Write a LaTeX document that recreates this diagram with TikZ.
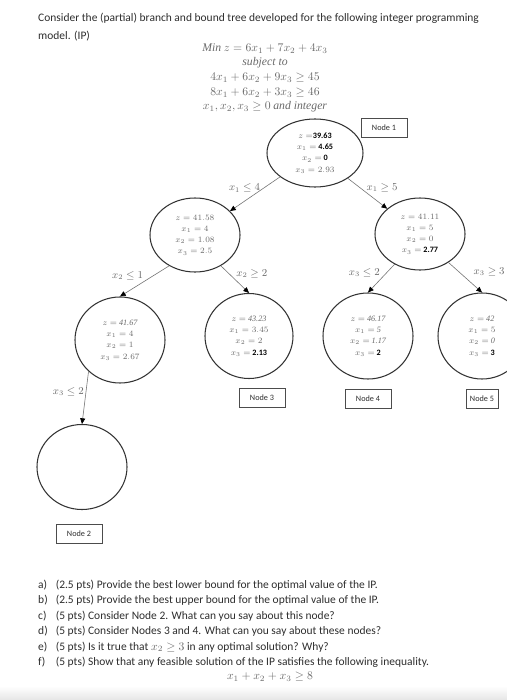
\documentclass[tikz,border=0pt]{standalone}
\usepackage{amsmath,amssymb}
\usepackage{fontspec}
\setmainfont{Carlito}
\newfontfamily\serifit{Liberation Serif}
\usetikzlibrary{arrows.meta,positioning,shapes.geometric}
\definecolor{bbgrey}{HTML}{6A6A6A}
\definecolor{bbtext}{HTML}{2E2E2E}
\newcommand{\bv}[1]{\textcolor{black}{\textbf{#1}}}
\newcommand{\iv}[1]{{\serifit\itshape #1}}
\newcommand{\qitem}[2]{\makebox[15pt][l]{#1}#2}

\begin{document}
\begin{tikzpicture}[x=0.03cm,y=-0.03cm,font=\fontsize{9.8}{13.1}\selectfont,
  bb/.style={ellipse,draw=black!80,line width=0.9pt,inner sep=0pt,align=center,text=bbgrey,font=\fontsize{7}{9.6}\selectfont},
  tag/.style={draw=black!70,line width=0.5pt,minimum width=1.38cm,minimum height=0.57cm,inner sep=0pt,text=bbtext,font=\fontsize{7}{8}\selectfont},
  arr/.style={-{Triangle[length=1.7mm,width=1.5mm,color=black]},draw=black!55,line width=0.5pt},
  cut/.style={text=bbgrey,font=\fontsize{9}{10}\selectfont,inner sep=1pt}]
  \useasboundingbox (0,0) rectangle (507,700);
  \fill[white] (0,0) rectangle (507,700);
  \shade[top color=white,bottom color=black!10] (0,686) rectangle (507,700);

  % problem statement
  \node[anchor=north west,align=left,inner sep=0pt,text=bbtext,font=\fontsize{9.8}{15.2}\selectfont] (intro) at (38,13)
    {Consider the (partial) branch and bound tree developed for the following integer programming\\model. (IP)};
  \node[align=center,inner sep=0pt,text=bbgrey,font=\fontsize{10}{12.5}\selectfont] (model) at (265,78)
    {{\serifit\itshape Min} $z = 6x_1 + 7x_2 + 4x_3$\\
     {\serifit\itshape subject to}\\
     $4x_1 + 6x_2 + 9x_3 \geq 45$\\
     $8x_1 + 6x_2 + 3x_3 \geq 46$\\
     $x_1, x_2, x_3 \geq 0$ {\serifit\itshape and integer}};

  % tree
  \node[bb,minimum width=2.88cm,minimum height=2.04cm] (n1) at (315,153)
    {$z =$\bv{39.63}\\ $x_1 =$ \bv{4.65}\\ $x_2 =$ \bv{0}\\ $x_3 = 2.93$};
  \node[bb,minimum width=2.7cm,minimum height=2.22cm] (nL) at (195,235)
    {$z = 41.58$\\ $x_1 = 4$\\ $x_2 = 1.08$\\ $x_3 = 2.5$};
  \node[bb,minimum width=2.7cm,minimum height=2.16cm] (nR) at (420,234)
    {$z = 41.11$\\ $x_1 = 5$\\ $x_2 = 0$\\ $x_3 =$ \bv{2.77}};
  \node[bb,minimum width=2.7cm,minimum height=2.58cm] (nLL) at (120,340)
    {$z =$ \iv{41.67}\\ $x_1 = 4$\\ $x_2 = 1$\\ $x_3 = 2.67$};
  \node[bb,minimum width=2.64cm,minimum height=2.55cm] (n3) at (249,336)
    {$z =$ \iv{43.23}\\ $x_1 = 3.45$\\ $x_2 = 2$\\ $x_3 =$ \bv{2.13}};
  \node[bb,minimum width=2.7cm,minimum height=2.58cm] (n4) at (368,336)
    {$z =$ \iv{46.17}\\ $x_1 =$ \iv{5}\\ $x_2 =$ \iv{1.17}\\ $x_3 =$ \bv{2}};
  \node[bb,minimum width=2.64cm,minimum height=2.58cm] (n5) at (482,336)
    {$z =$ \iv{42}\\ $x_1 = 5$\\ $x_2 =$ \iv{0}\\ $x_3 =$ \bv{3}};
  \node[bb,minimum width=2.7cm,minimum height=2.55cm] (n2) at (82,467) {};

  \node[tag] (t1) at (384,128) {Node 1};
  \node[tag,below=0.28cm of n3,xshift=0.39cm] (t3) {Node 3};
  \node[tag,below=0.28cm of n4] (t4) {Node 4};
  \node[tag,below=0.28cm of n5,minimum width=0.96cm] (t5) {Node 5};
  \node[tag,below=0.43cm of n2,xshift=-0.09cm] (t2) {Node 2};

  \draw[arr] (n1) -- (nL) node[cut,midway,above,xshift=-9pt] {$x_1 \leq 4$};
  \draw[arr] (n1) -- (nR) node[cut,midway,above right,xshift=-2pt] {$x_1 \geq 5$};
  \draw[arr] (nL.230) -- (nLL.north) node[cut,midway,above left] {$x_2 \leq 1$};
  \draw[arr] (nL.-50) -- (n3.north) node[cut,midway,above right] {$x_2 \geq 2$};
  \draw[arr] (nR.230) -- (n4.north) node[cut,midway,above left] {$x_3 \leq 2$};
  \draw[arr] (nR.-45) -- (n5.north) node[cut,midway,above right,xshift=6pt] {$x_3 \geq 3$};
  \draw[arr] (nLL.225) -- (n2.north) node[cut,midway,above left] {$x_3 \leq 2$};

  % questions
  \node[anchor=north west,align=left,inner sep=0pt,text=bbtext] (qs) at (38,580)
    {\qitem{a)}{(2.5 pts) Provide the best lower bound for the optimal value of the IP.}\\
     \qitem{b)}{(2.5 pts) Provide the best upper bound for the optimal value of the IP.}\\
     \qitem{c)}{(5 pts) Consider Node 2. What can you say about this node?}\\
     \qitem{d)}{(5 pts) Consider Nodes 3 and 4. What can you say about these nodes?}\\
     \qitem{e)}{(5 pts) Is it true that \textcolor{bbgrey}{$x_2 \geq 3$} in any optimal solution? Why?}\\
     \qitem{f)}{(5 pts) Show that any feasible solution of the IP satisfies the following inequality.}};
  \node[text=bbgrey,inner sep=0pt] (ineq) at (270,677) {$x_1 + x_2 + x_3 \geq 8$};
\end{tikzpicture}
\end{document}
